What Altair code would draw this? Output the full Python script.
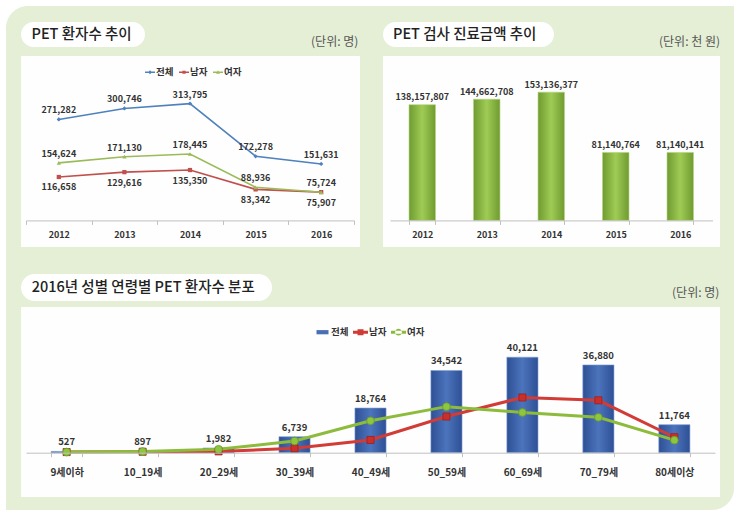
import altair as alt
import pandas as pd

FONT = "Noto Sans CJK KR"
INK = "#333333"

# ---- PET patients per year ----
years = ["2012", "2013", "2014", "2015", "2016"]
patients_total = [271282, 300746, 313795, 172278, 151631]
patients_male = [116658, 129616, 135350, 83342, 75907]
patients_female = [154624, 171130, 178445, 88936, 75724]

# ---- PET exam cost per year (thousand won) ----
exam_cost = [138157807, 144662708, 153136377, 81140764, 81140141]

# ---- 2016 patients by age group ----
age_groups = ["9세이하", "10_19세", "20_29세", "30_39세", "40_49세",
              "50_59세", "60_69세", "70_79세", "80세이상"]
age_total = [527, 897, 1982, 6739, 18764, 34542, 40121, 36880, 11764]
age_male = [260, 400, 550, 1839, 5344, 15200, 23200, 22000, 6500]
age_female = [267, 497, 1432, 4900, 13420, 19350, 16900, 14880, 5264]

series_names = ["전체", "남자", "여자"]

# long tables built from the arrays above
trend = pd.DataFrame(
    [{"year": y, "series": s, "value": v}
     for s, vals in zip(series_names, [patients_total, patients_male, patients_female])
     for y, v in zip(years, vals)]
)
cost_df = pd.DataFrame({"year": years, "cost": exam_cost})
age_df = pd.DataFrame({"age": age_groups, "total": age_total})
age_long = pd.DataFrame(
    [{"age": a, "series": s, "value": v}
     for s, vals in zip(series_names[1:], [age_male, age_female])
     for a, v in zip(age_groups, vals)]
)
legend_df = pd.DataFrame({"series": series_names})
one = pd.DataFrame({"k": [0]})

W, H = 743, 520
PANEL = "#e4efd6"
BOX = "#fefefe"


def rect(x, x2, y, y2, color, **kw):
    return alt.Chart(one).mark_rect(color=color, **kw).encode(
        x=alt.value(x), x2=alt.value(x2), y=alt.value(y), y2=alt.value(y2))


def caption(x, y, text, size, align="left", color="#222222", weight="normal"):
    return alt.Chart(one).mark_text(
        text=text, align=align, baseline="middle", font=FONT,
        fontSize=size, color=color, fontWeight=weight
    ).encode(x=alt.value(x), y=alt.value(y))


def legend(x, y, size, font_size, col_pad):
    return alt.Legend(
        title=None, orient="none", legendX=x, legendY=y, direction="horizontal",
        symbolSize=size, symbolOpacity=1, symbolStrokeWidth=0,
        labelFont=FONT, labelFontSize=font_size, labelFontWeight="bold",
        labelColor=INK, labelOffset=1, columnPadding=col_pad, padding=0,
    )


def x_axis(bottom, size, pad):
    return alt.Axis(title=None, orient="bottom", offset=bottom - H, labelAngle=0,
                    labelFontSize=size, labelPadding=pad, zindex=1,
                    domainColor="#c0c0c0", tickColor="#c0c0c0", tickSize=4,
                    tickBand="extent", labelFont=FONT, labelFontWeight="bold",
                    labelColor=INK)


# backdrop: green panel, white chart boxes, title pills
decor = [
    rect(6, 734, 6, 510, PANEL, cornerRadiusTopLeft=22, cornerRadiusBottomRight=22),
    rect(21, 360, 56, 247, BOX),
    rect(383, 720, 56, 247, BOX),
    rect(21, 720, 307, 497, BOX),
    rect(21, 145, 22, 47, "#ffffff", cornerRadius=12.5),
    rect(383, 554, 22, 47, "#ffffff", cornerRadius=12.5),
    rect(21, 272, 274, 301, "#ffffff", cornerRadius=13.5),
    caption(31.5, 34.5, "PET 환자수 추이", 14.5, weight=500),
    caption(393, 34.5, "PET 검사 진료금액 추이", 14.5, weight=500),
    caption(31.7, 288, "2016년 성별 연령별 PET 환자수 분포", 14.5, weight=500),
    caption(358.3, 41.7, "(단위: 명)", 12, align="right", color="#555555"),
    caption(720, 41.7, "(단위: 천 원)", 12, align="right", color="#555555"),
    caption(719.3, 293.3, "(단위: 명)", 12, align="right", color="#555555"),
]

# ================= patients trend (lines) =================
line_colors = ["#4f81bd", "#c0504d", "#9bbb59"]
marker_shapes = ["diamond", "square", "triangle-up"]
label_dy = [-9, 10.5, -9]

x1 = alt.X("year:N", sort=years,
           scale=alt.Scale(type="band", range=[26, 354], paddingInner=0, paddingOuter=0),
           axis=x_axis(220.4, 9, 6))
y1 = alt.Y("value:Q", scale=alt.Scale(domain=[0, 360000], range=[220.4, 86.4], nice=False),
           axis=None)

layers1 = []
for name, col, shp, dy in zip(series_names, line_colors, marker_shapes, label_dy):
    series = alt.Chart(trend).transform_filter(alt.datum.series == name)
    layers1.append(series.mark_line(strokeWidth=1.6, color=col).encode(x=x1, y=y1))
    layers1.append(
        series.mark_point(shape=shp, filled=True, size=18, color=col, opacity=1)
        .encode(x=x1, y=y1))
    layers1.append(
        series.mark_text(dy=dy, baseline="middle", font=FONT, fontSize=9,
                         fontWeight="bold", color=INK)
        .encode(x=x1, y=y1, text=alt.Text("value:Q", format=",")))

paths1 = [
    "M-1,-0.15H1V0.15H-1Z M0,-0.38L0.38,0L0,0.38L-0.38,0Z",
    "M-1,-0.15H1V0.15H-1Z M-0.32,-0.32H0.32V0.32H-0.32Z",
    "M-1,-0.15H1V0.15H-1Z M0,-0.38L0.38,0.3H-0.38Z",
]
leg1 = legend(145, 67, 100, 9.5, 5)
layers1.append(
    alt.Chart(legend_df).mark_point(filled=True, opacity=0).encode(
        x=alt.value(0), y=alt.value(0),
        fill=alt.Fill("series:N", sort=series_names,
                      scale=alt.Scale(domain=series_names, range=line_colors), legend=leg1),
        shape=alt.Shape("series:N", sort=series_names,
                        scale=alt.Scale(domain=series_names, range=paths1), legend=leg1)))
panel1 = alt.layer(*layers1)

# ================= exam cost (bars) =================
green_grad = alt.LinearGradient(
    gradient="linear", x1=0, x2=1, y1=0, y2=0,
    stops=[alt.GradientStop(offset=0, color="#6f9b31"),
           alt.GradientStop(offset=0.5, color="#9fcb55"),
           alt.GradientStop(offset=1, color="#6f9b31")])
x2s = alt.X("year:N", sort=years,
            scale=alt.Scale(type="band", range=[390, 712.5], paddingInner=0.59,
                            paddingOuter=0.295),
            axis=x_axis(220.4, 9, 6))
y2s = alt.Y("cost:Q", scale=alt.Scale(domain=[0, 160000000], range=[220.4, 86.4], nice=False),
            axis=None)
panel2 = alt.layer(
    alt.Chart(cost_df).mark_bar(color=green_grad, stroke="#b2d47a", strokeWidth=0.6).encode(
        x=x2s, y=y2s),
    alt.Chart(cost_df).mark_text(dy=-7.5, baseline="middle", font=FONT, fontSize=9,
                                 fontWeight="bold", color=INK).encode(
        x=x2s, y=y2s, text=alt.Text("cost:Q", format=",")),
)

# ================= 2016 by age group =================
blue_grad = alt.LinearGradient(
    gradient="linear", x1=0, x2=1, y1=0, y2=0,
    stops=[alt.GradientStop(offset=0, color="#2e5095"),
           alt.GradientStop(offset=0.5, color="#4c74bc"),
           alt.GradientStop(offset=1, color="#2e5095")])
age_colors = ["#4a6fb5", "#cf3b36", "#8cbb3c"]
x3 = alt.X("age:N", sort=age_groups,
           scale=alt.Scale(type="band", range=[26, 715], paddingInner=0.59, paddingOuter=0.33),
           axis=x_axis(452.7, 10, 11))
y3b = alt.Y("total:Q", scale=alt.Scale(domain=[0, 50000], range=[452.7, 333.7], nice=False),
            axis=None)
y3l = alt.Y("value:Q", scale=alt.Scale(domain=[0, 50000], range=[452.7, 333.7], nice=False),
            axis=None)

paths3 = [
    "M-0.8,-0.28H0.8V0.28H-0.8Z",
    "M-1,-0.2H1V0.2H-1Z M-0.4,-0.4H0.4V0.4H-0.4Z",
    "M-1,-0.2H1V0.2H-1Z M-0.45,0A0.45,0.45 0 1,0 0.45,0A0.45,0.45 0 1,0 -0.45,0Z",
]
leg3 = legend(315, 324.7, 225, 9.5, 4)
panel3 = alt.layer(
    alt.Chart(age_df).mark_bar(color=blue_grad, stroke="#7f9fd6", strokeWidth=0.6).encode(
        x=x3, y=y3b),
    alt.Chart(age_df).mark_text(dy=-9, baseline="middle", font=FONT, fontSize=9.5,
                                fontWeight="bold", color=INK).encode(
        x=x3, y=y3b, text=alt.Text("total:Q", format=",")),
    alt.Chart(age_long).transform_filter(alt.datum.series == "남자")
    .mark_line(color="#d13c37", strokeWidth=3).encode(x=x3, y=y3l),
    alt.Chart(age_long).transform_filter(alt.datum.series == "여자")
    .mark_line(color="#8dbb3c", strokeWidth=3).encode(x=x3, y=y3l),
    alt.Chart(age_long).transform_filter(alt.datum.series == "남자")
    .mark_point(shape="square", filled=True, size=50, color="#c9302c", stroke="#9e1f1c",
                strokeWidth=0.8, opacity=1).encode(x=x3, y=y3l),
    alt.Chart(age_long).transform_filter(alt.datum.series == "여자")
    .mark_point(shape="circle", filled=True, size=60, color="#8dc63f", stroke="#6a962b",
                strokeWidth=0.8, opacity=1).encode(x=x3, y=y3l),
    alt.Chart(legend_df).mark_point(filled=True, opacity=0).encode(
        x=alt.value(0), y=alt.value(0),
        fill=alt.Fill("series:N", sort=series_names,
                      scale=alt.Scale(domain=series_names, range=age_colors), legend=leg3),
        shape=alt.Shape("series:N", sort=series_names,
                        scale=alt.Scale(domain=series_names, range=paths3), legend=leg3)),
)

chart = alt.layer(*decor, panel1, panel2, panel3).resolve_scale(
    x="independent", y="independent",
    fill="independent", shape="independent",
).resolve_axis(x="independent").properties(
    width=W, height=H,
    autosize=alt.AutoSizeParams(type="none"),
    padding=0,
    background="#ffffff",
).configure_view(stroke=None).configure_axis(grid=False)

chart.save("out.html", embed_options={"renderer": "svg", "actions": False})
